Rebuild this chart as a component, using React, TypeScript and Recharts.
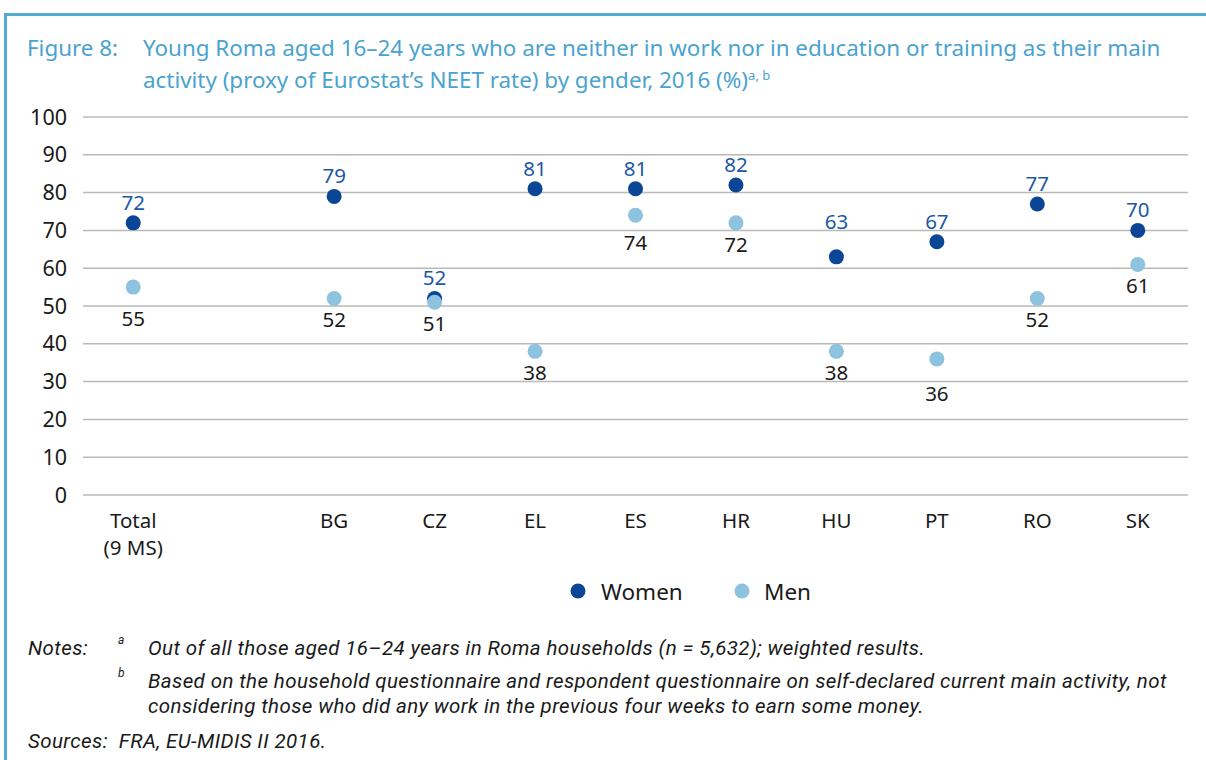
import React from "react";
import { LineChart, Line, XAxis, YAxis, CartesianGrid, LabelList, Legend } from "recharts";

const categories = ["Total\n(9 MS)", "", "BG", "CZ", "EL", "ES", "HR", "HU", "PT", "RO", "SK"];
const women = [72, null, 79, 52, 81, 81, 82, 63, 67, 77, 70];
const men = [55, null, 52, 51, 38, 74, 72, 38, 36, 52, 61];
const yTicks = [0, 10, 20, 30, 40, 50, 60, 70, 80, 90, 100];

const data = categories.map((c, i) => ({ cat: c, women: women[i], men: men[i] }));

const WOMEN = "#0b4596";
const WOMEN_LABEL = "#1c58a6";
const MEN = "#8dc3de";
const FRAME = "#55aad3";
const FONT = "'Noto Sans', sans-serif";
const NOTE_FONT = "Roboto, sans-serif";

// small label nudges (px) for readability, as in the original
const womenNudge: Record<string, number> = { HU: 15 };
const menNudge: Record<string, number> = { "Total\n(9 MS)": 10, ES: 6, PT: 13 };

const XTick = (props: any) => {
  const { x, y, payload } = props;
  const lines = String(payload.value).split("\n");
  return (
    <text x={x} y={y} textAnchor="middle" fontFamily={FONT} fontSize={20.5} fill="#1a1a1a">
      {lines.map((l, i) => (
        <tspan key={i} x={x} dy={i === 0 ? 25 : 27}>{l}</tspan>
      ))}
    </text>
  );
};

const makeLabel = (color: string, above: boolean, nudge: Record<string, number>) => (props: any) => {
  const { x, y, value, index } = props;
  if (value == null) return null;
  const cat = categories[index];
  const off = 21 + (nudge[cat] || 0);
  return (
    <text x={x} y={above ? y - off : y + off} textAnchor="middle" dominantBaseline="central"
      fontFamily={FONT} fontSize={20.5} fill={color}>
      {value}
    </text>
  );
};

const LegendContent = () => (
  <div style={{ position: "relative", height: 30 }}>
    <svg width={1206} height={30} style={{ position: "absolute", left: 0, top: 0 }}>
      <circle cx={578} cy={15} r={7.5} fill={WOMEN} />
      <text x={601} y={15} dominantBaseline="central" fontFamily={FONT} fontSize={22.5} fill="#1a1a1a">Women</text>
      <circle cx={742} cy={15} r={7.5} fill={MEN} />
      <text x={764} y={15} dominantBaseline="central" fontFamily={FONT} fontSize={22.5} fill="#1a1a1a">Men</text>
    </svg>
  </div>
);

const lineStyle: React.CSSProperties = { position: "absolute", whiteSpace: "nowrap", lineHeight: "24px", height: 24 };

export default function App() {
  return (
    <div style={{ position: "absolute", left: 0, top: 0, width: 1206, height: 760, background: "#fff", overflow: "hidden" }}>
      <div style={{ position: "absolute", left: 4, top: 13, width: 1210, height: 3, background: FRAME }} />
      <div style={{ position: "absolute", left: 4, top: 13, width: 3, height: 760, background: FRAME }} />
      <div style={{ position: "absolute", left: 0, top: 0, fontFamily: FONT, fontSize: 22.4, color: "#4aa3cf" }}>
        <div style={{ ...lineStyle, left: 27, top: 35, lineHeight: "26px", height: 26 }}>Figure 8:</div>
        <div style={{ ...lineStyle, left: 143, top: 35, lineHeight: "26px", height: 26 }}>
          Young Roma aged 16–24 years who are neither in work nor in education or training as their main
        </div>
        <div style={{ ...lineStyle, left: 143, top: 67, lineHeight: "26px", height: 26 }}>
          activity (proxy of Eurostat’s NEET rate) by gender, 2016 (%)<sup style={{ fontSize: 13, lineHeight: 0, verticalAlign: "8px" }}>a, b</sup>
        </div>
      </div>
      <div style={{ position: "absolute", left: 0, top: 0 }}>
        <LineChart width={1206} height={625} data={data} margin={{ top: 117, right: 18, bottom: 40, left: 0 }}>
          <CartesianGrid vertical={false} stroke="#b9b9b9" strokeWidth={1.5} />
          <XAxis dataKey="cat" scale="band" interval={0} tickLine={false} axisLine={false} height={60} tick={<XTick />} />
          <YAxis domain={[0, 100]} ticks={yTicks} width={83} tickLine={false} axisLine={false} tickSize={0} tickMargin={16}
            tick={{ fontFamily: FONT, fontSize: 21.5, fill: "#1a1a1a" }} interval={0} />
          <Legend verticalAlign="bottom" content={<LegendContent />} wrapperStyle={{ left: 0, top: 576, width: 1206 }} />
          <Line dataKey="women" name="Women" stroke="none" isAnimationActive={false}
            dot={{ r: 7.5, fill: WOMEN, stroke: "none" }} activeDot={false}>
            <LabelList dataKey="women" content={makeLabel(WOMEN_LABEL, true, womenNudge)} />
          </Line>
          <Line dataKey="men" name="Men" stroke="none" isAnimationActive={false}
            dot={{ r: 7.5, fill: MEN, stroke: "none" }} activeDot={false}>
            <LabelList dataKey="men" content={makeLabel("#1a1a1a", false, menNudge)} />
          </Line>
        </LineChart>
      </div>
      <div style={{ position: "absolute", left: 28, top: 636, fontFamily: NOTE_FONT, fontStyle: "italic", fontSize: 20.5, letterSpacing: 0.4, color: "#1a1a1a" }}>
        <div style={{ ...lineStyle, left: 0, top: 0 }}>Notes:</div>
        <div style={{ position: "absolute", left: 90, top: -3, fontSize: 12 }}>a</div>
        <div style={{ ...lineStyle, left: 120, top: 0 }}>Out of all those aged 16–24 years in Roma households (n = 5,632); weighted results.</div>
        <div style={{ position: "absolute", left: 90, top: 30, fontSize: 12 }}>b</div>
        <div style={{ ...lineStyle, left: 120, top: 33 }}>
          Based on the household questionnaire and respondent questionnaire on self-declared current main activity, not
        </div>
        <div style={{ ...lineStyle, left: 120, top: 58 }}>
          considering those who did any work in the previous four weeks to earn some money.
        </div>
        <div style={{ ...lineStyle, left: 0, top: 93 }}>Sources:&nbsp; FRA, EU-MIDIS II 2016.</div>
      </div>
    </div>
  );
}
